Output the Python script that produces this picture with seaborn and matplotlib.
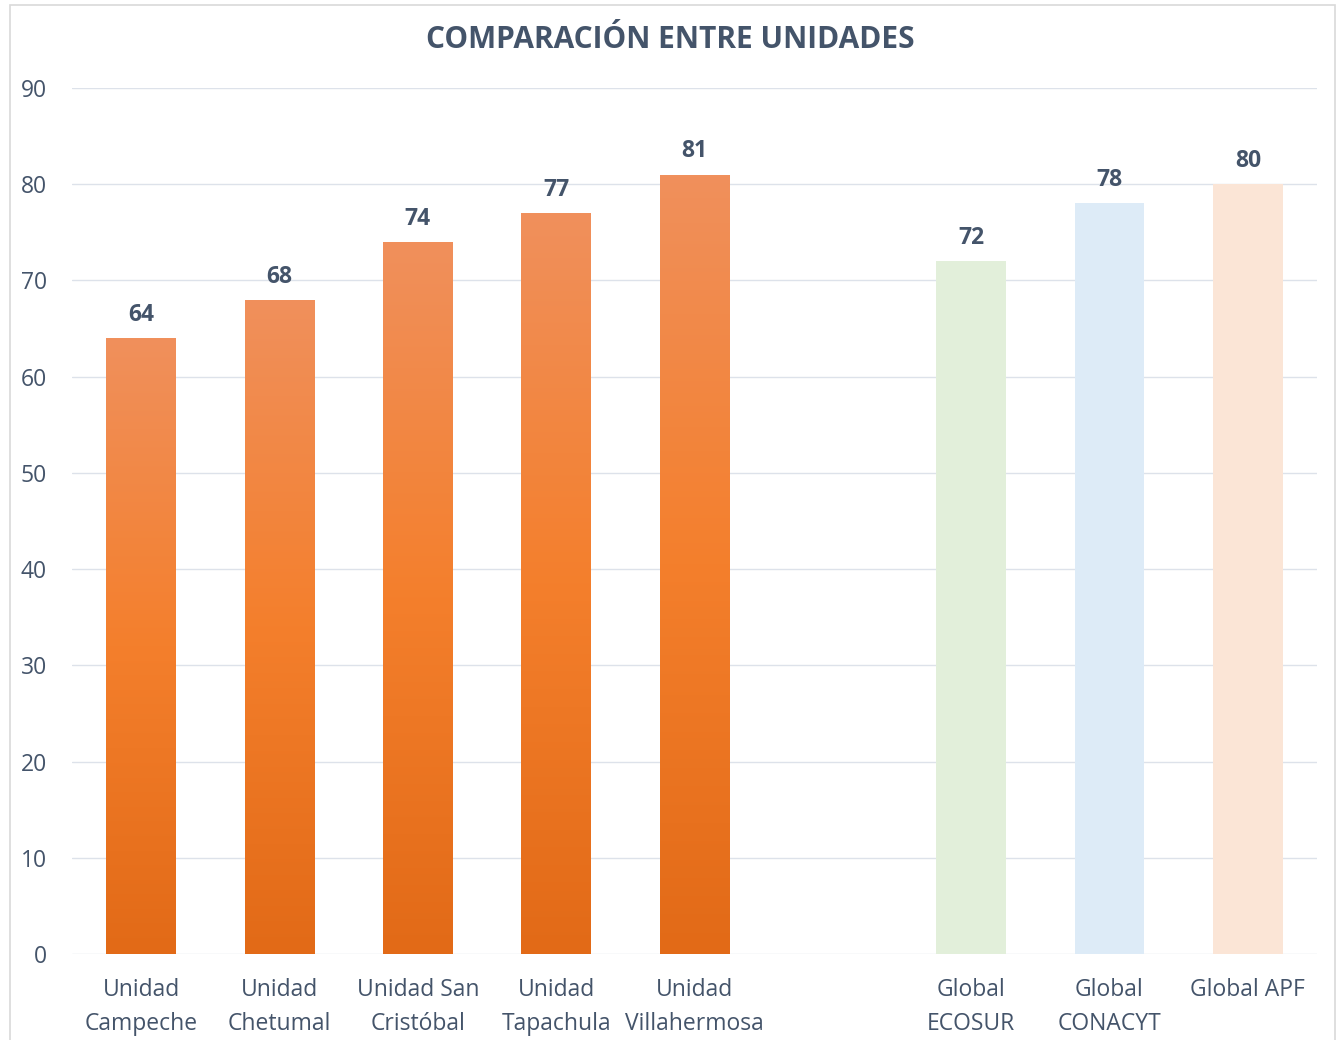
import numpy as np
import pandas as pd
import matplotlib
matplotlib.use('Agg')
import matplotlib.pyplot as plt
import seaborn as sns
from matplotlib.colors import LinearSegmentedColormap
from matplotlib.patches import Rectangle

# Datos
categorias = ['Unidad\nCampeche', 'Unidad\nChetumal', 'Unidad San\nCristóbal',
              'Unidad\nTapachula', 'Unidad\nVillahermosa', '',
              'Global\nECOSUR', 'Global\nCONACYT', 'Global APF']
valores = [64, 68, 74, 77, 81, np.nan, 72, 78, 80]
colores = ['#F47F2C', '#F47F2C', '#F47F2C', '#F47F2C', '#F47F2C', '#FFFFFF',
           '#E2EFDA', '#DDEBF7', '#FBE5D6']

df = pd.DataFrame({'Categoria': categorias, 'Valor': valores})

sns.set_theme(style='white')
plt.rcParams['font.family'] = ['Open Sans', 'DejaVu Sans']

texto = '#44546A'
fig = plt.figure(figsize=(13.4, 10.4), dpi=100)
ax = fig.add_axes([72 / 1340, 1 - 954 / 1040, (1317 - 72) / 1340, (954 - 88) / 1040])

sns.barplot(data=df, x='Categoria', y='Valor', hue='Categoria', order=categorias,
            hue_order=categorias, palette=dict(zip(categorias, colores)),
            saturation=1, width=0.505, legend=False, linewidth=0, ax=ax)

# degradado en las barras naranjas
grad = LinearSegmentedColormap.from_list('naranja', ['#E26A17', '#F47F2C', '#F0905C'])
img = np.linspace(0, 1, 256).reshape(-1, 1)
for cont in ax.containers[:5]:
    for bar in cont:
        x0, y0 = bar.get_x(), bar.get_y()
        im = ax.imshow(img, cmap=grad, origin='lower', aspect='auto',
                       extent=[x0, x0 + bar.get_width(), y0, y0 + bar.get_height()],
                       zorder=bar.get_zorder() + 0.1)
        im.set_clip_path(bar)

for cont in ax.containers:
    ax.bar_label(cont, fmt='%.0f', padding=8, fontsize=16.5, fontweight='bold', color=texto)

ax.set_xlim(-0.5, 8.5)
ax.set_ylim(0, 90)
ax.set_yticks(range(0, 91, 10))
ax.yaxis.grid(True, color='#DDE2EA', lw=1)
ax.set_axisbelow(True)
for s in ax.spines.values():
    s.set_visible(False)
ax.set_xlabel('')
ax.set_ylabel('')
ax.tick_params(axis='y', length=0, pad=18, labelsize=16.5, labelcolor=texto)
ax.tick_params(axis='x', length=0, pad=17, labelsize=16.5, labelcolor=texto)
for t in ax.get_xticklabels():
    t.set_linespacing(1.55)

fig.text(0.5, 1 - 40 / 1040, 'COMPARACIÓN ENTRE UNIDADES', ha='center', va='center',
         fontsize=21.5, fontweight='bold', color=texto)

fig.patches.append(Rectangle((10 / 1340, -0.01), 1325 / 1340, 1 - 5 / 1040 + 0.01,
                             transform=fig.transFigure, fill=False,
                             edgecolor='#D9D9D9', lw=1.2))

fig.savefig('out.png', dpi=100)
